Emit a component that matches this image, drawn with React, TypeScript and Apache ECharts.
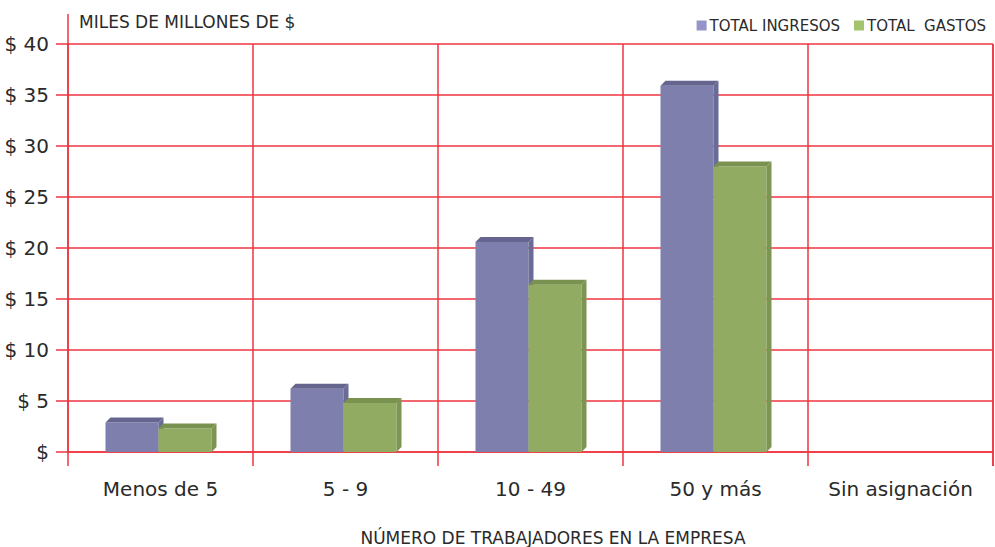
import React, { useEffect, useRef } from "react";
import * as echarts from "echarts";

const categories = ["Menos de 5", "5 - 9", "10 - 49", "50 y más", "Sin asignación"];
const ingresos = [2.9, 6.2, 20.6, 35.9, 0];
const gastos = [2.3, 4.8, 16.4, 28.0, 0];
const yTicks = [0, 5, 10, 15, 20, 25, 30, 35, 40];
const seriesNames = ["TOTAL INGRESOS", "TOTAL  GASTOS"];

const FONT = "DejaVu Sans";
const RED = "#ee3440";
const TXT = "#2a2a2a";

const palettes = [
  { front: "#7f7fad", top: "#65658f", side: "#6b6b98", legend: "#9494c8" },
  { front: "#92ab62", top: "#7a9250", side: "#7d9552", legend: "#a3c46c" },
];

function makeRender(s: number) {
  return (params: any, api: any) => {
    const i = api.value(0);
    const v = api.value(1);
    if (!v) return null;
    const top = api.coord([i, v]);
    const base = api.coord([i, 0]);
    const w = 53;
    const d = 5;
    const x0 = s === 0 ? top[0] - 55 : top[0] - 2;
    const x1 = x0 + w;
    const yT = top[1];
    const yB = base[1];
    const p = palettes[s];
    return {
      type: "group",
      children: [
        { type: "rect", shape: { x: x0, y: yT, width: w, height: yB - yT }, style: { fill: p.front } },
        {
          type: "polygon",
          shape: { points: [[x0, yT], [x0 + d, yT - d], [x1 + d, yT - d], [x1, yT]] },
          style: { fill: p.top },
        },
        {
          type: "polygon",
          shape: { points: [[x1, yT], [x1 + d, yT - d], [x1 + d, yB - d], [x1, yB]] },
          style: { fill: p.side },
        },
      ],
    };
  };
}

export default function App() {
  const ref = useRef<HTMLDivElement>(null);
  useEffect(() => {
    if (!ref.current) return;
    const chart = echarts.init(ref.current, undefined, { renderer: "svg" });
    chart.setOption({
      animation: false,
      textStyle: { fontFamily: FONT },
      grid: { left: 68, right: 2, top: 44, bottom: 95, containLabel: false },
      legend: {
        right: 4,
        top: 13,
        itemWidth: 10,
        itemHeight: 10,
        itemGap: 14,
        icon: "rect",
        textStyle: { fontFamily: FONT, fontSize: 15, color: TXT, padding: [0, 0, 0, -2] },
        data: seriesNames,
      },
      xAxis: {
        type: "category",
        data: categories,
        boundaryGap: true,
        axisLine: { lineStyle: { color: RED, width: 1.5 } },
        axisTick: { show: true, interval: 0, length: 14, inside: false, lineStyle: { color: RED, width: 1.5 } },
        splitLine: { show: true, interval: 0, lineStyle: { color: RED, width: 1.5 } },
        axisLabel: { interval: 0, hideOverlap: false, fontFamily: FONT, fontSize: 20, color: TXT, margin: 27 },
      },
      yAxis: {
        type: "value",
        min: 0,
        max: 40,
        interval: 5,
        axisLine: { show: true, lineStyle: { color: RED, width: 1.5 } },
        axisTick: { show: true, length: 12, lineStyle: { color: RED, width: 1.5 } },
        splitLine: { show: true, lineStyle: { color: RED, width: 1.5 } },
        axisLabel: {
          fontFamily: FONT,
          fontSize: 20,
          color: TXT,
          margin: 19,
          formatter: (v: number) => (yTicks.includes(v) ? (v === 0 ? "$" : "$ " + v) : ""),
        },
      },
      graphic: [
        { type: "line", shape: { x1: 68, y1: 14, x2: 68, y2: 44 }, style: { stroke: RED, lineWidth: 1.5 } },
        { type: "line", shape: { x1: 993, y1: 44, x2: 993, y2: 466 }, style: { stroke: RED, lineWidth: 1.5 } },
        {
          type: "text",
          x: 79,
          y: 22,
          style: { text: "MILES DE MILLONES DE $", font: `17px "${FONT}"`, fill: TXT, textVerticalAlign: "middle" },
        },
        {
          type: "text",
          x: 553,
          y: 538,
          style: {
            text: "NÚMERO DE TRABAJADORES EN LA EMPRESA",
            font: `17px "${FONT}"`,
            fill: TXT,
            textAlign: "center",
            textVerticalAlign: "middle",
          },
        },
      ],
      series: [
        {
          name: seriesNames[0],
          type: "custom",
          itemStyle: { color: palettes[0].legend },
          encode: { x: 0, y: 1 },
          data: ingresos.map((v, i) => [i, v]),
          renderItem: makeRender(0),
          z: 1,
        },
        {
          name: seriesNames[1],
          type: "custom",
          itemStyle: { color: palettes[1].legend },
          encode: { x: 0, y: 1 },
          data: gastos.map((v, i) => [i, v]),
          renderItem: makeRender(1),
          z: 2,
        },
      ],
    });
    return () => chart.dispose();
  }, []);
  return <div ref={ref} style={{ width: 995, height: 547, position: "absolute", left: 0, top: 0 }} />;
}
